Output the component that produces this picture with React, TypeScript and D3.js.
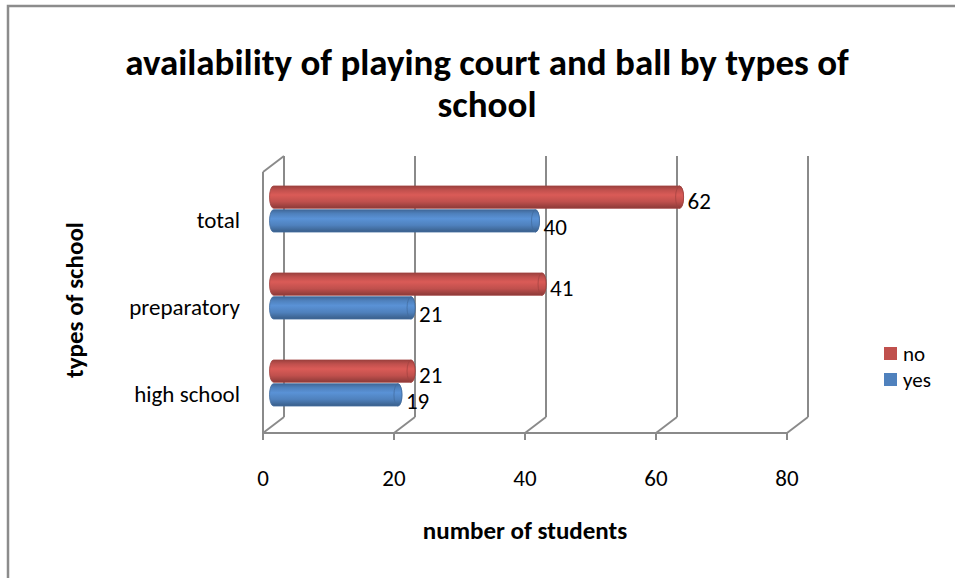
import React from "react";
import * as d3 from "d3";

const categories = ["total", "preparatory", "high school"];
const series = ["no", "yes"];
const noValues = [62, 41, 21];
const yesValues = [40, 21, 19];
const xTicks = [0, 20, 40, 60, 80];
const seriesColors = ["#C0504D", "#4F81BD"];

const W = 955;
const H = 578;
const FONT = "Carlito, Lato, 'Open Sans', sans-serif";

export default function App() {
  const depthX = 21;
  const depthY = -16;
  const x = d3.scaleLinear().domain([0, 80]).range([263, 787]);
  const frontTop = 172;
  const frontBottom = 433;
  const yFront = d3.scaleBand<string>().domain(categories).range([frontTop, frontBottom]).padding(0);
  const midDX = depthX / 2;
  const midDY = depthY / 2;
  const sub = d3.scaleBand<string>().domain(series).range([22, 68]).paddingInner(0.06);
  const capR = 4;
  const valuesBySeries = [noValues, yesValues];

  const shade = (c: string, k: number) => d3.color(c)!.darker(k).formatHex();
  const light = (c: string, k: number) => d3.color(c)!.brighter(k).formatHex();

  return (
    <svg width={W} height={H} style={{ position: "absolute", left: 0, top: 0, background: "#fff" }}>
      <defs>
        {seriesColors.map((c, i) => (
          <linearGradient key={i} id={`cyl${i}`} x1="0" y1="0" x2="0" y2="1">
            <stop offset="0%" stopColor={shade(c, 0.6)} />
            <stop offset="18%" stopColor={c} />
            <stop offset="40%" stopColor={light(c, 0.35)} />
            <stop offset="70%" stopColor={c} />
            <stop offset="100%" stopColor={shade(c, 0.9)} />
          </linearGradient>
        ))}
      </defs>
      {/* frame */}
      <path d={`M8,${H} L8,6 L${W},6`} fill="none" stroke="#8c8c8c" strokeWidth={2.5} />

      {/* title */}
      <text x={487} y={62} textAnchor="middle" dominantBaseline="central" fontFamily={FONT} fontWeight="bold" fontSize={37} fill="#000">
        availability of playing court and ball by types of
      </text>
      <text x={487} y={104} textAnchor="middle" dominantBaseline="central" fontFamily={FONT} fontWeight="bold" fontSize={37} fill="#000">
        school
      </text>

      {/* walls and gridlines */}
      <g stroke="#8a8a8a" strokeWidth={2} fill="none">
        <line x1={x(0)} y1={frontTop} x2={x(0)} y2={frontBottom} />
        <line x1={x(0)} y1={frontTop} x2={x(0) + depthX} y2={frontTop + depthY} />
        {xTicks.map((t) => (
          <g key={t}>
            <line x1={x(t) + depthX} y1={frontTop + depthY} x2={x(t) + depthX} y2={frontBottom + depthY} />
            <line x1={x(t)} y1={frontBottom} x2={x(t) + depthX} y2={frontBottom + depthY} />
            <line x1={x(t)} y1={frontBottom} x2={x(t)} y2={frontBottom + 7} />
          </g>
        ))}
        <line x1={x(0)} y1={frontBottom} x2={x(80)} y2={frontBottom} />
      </g>

      {/* bars */}
      {categories.map((cat, ci) =>
        series.map((s, si) => {
          const v = valuesBySeries[si][ci];
          const y0 = (yFront(cat) as number) + midDY + (sub(s) as number);
          const h = sub.bandwidth();
          const xs = x(0) + midDX;
          const xe = x(v) + midDX;
          const c = seriesColors[si];
          const ry = h / 2;
          const body = `M${xs},${y0} L${xe},${y0} A${capR},${ry} 0 0 1 ${xe},${y0 + h} L${xs},${y0 + h} A${capR},${ry} 0 0 1 ${xs},${y0} Z`;
          return (
            <g key={`${cat}-${s}`}>
              <path d={body} fill={`url(#cyl${si})`} stroke={shade(c, 0.5)} strokeWidth={0.8} />
              <ellipse cx={xe} cy={y0 + ry} rx={capR} ry={ry} fill={`url(#cyl${si})`} stroke={shade(c, 0.5)} strokeWidth={0.8} opacity={0.9} />
              <text
                x={xe + capR + 4}
                y={y0 + ry + (si === 0 ? 4 : 6)}
                dominantBaseline="central"
                fontFamily={FONT}
                fontSize={23}
                fill="#000"
              >
                {v}
              </text>
            </g>
          );
        })
      )}

      {/* category labels */}
      {categories.map((cat) => (
        <text
          key={cat}
          x={240}
          y={(yFront(cat) as number) + yFront.bandwidth() / 2 + 4}
          textAnchor="end"
          dominantBaseline="central"
          fontFamily={FONT}
          fontSize={23}
          fill="#000"
        >
          {cat}
        </text>
      ))}

      {/* x tick labels */}
      {xTicks.map((t) => (
        <text key={t} x={x(t)} y={478} textAnchor="middle" dominantBaseline="central" fontFamily={FONT} fontSize={23} fill="#000">
          {t}
        </text>
      ))}

      {/* axis titles */}
      <text x={525} y={530} textAnchor="middle" dominantBaseline="central" fontFamily={FONT} fontWeight="bold" fontSize={25} fill="#000">
        number of students
      </text>
      <text
        transform="translate(74,300) rotate(-90)"
        textAnchor="middle"
        dominantBaseline="central"
        fontFamily={FONT}
        fontWeight="bold"
        fontSize={25}
        fill="#000"
      >
        types of school
      </text>

      {/* legend */}
      {series.map((s, i) => (
        <g key={s} transform={`translate(884,${347 + i * 26})`}>
          <rect width={13} height={13} fill={seriesColors[i]} />
          <text x={19} y={7} dominantBaseline="central" fontFamily={FONT} fontSize={21} fill="#000">
            {s}
          </text>
        </g>
      ))}
    </svg>
  );
}
